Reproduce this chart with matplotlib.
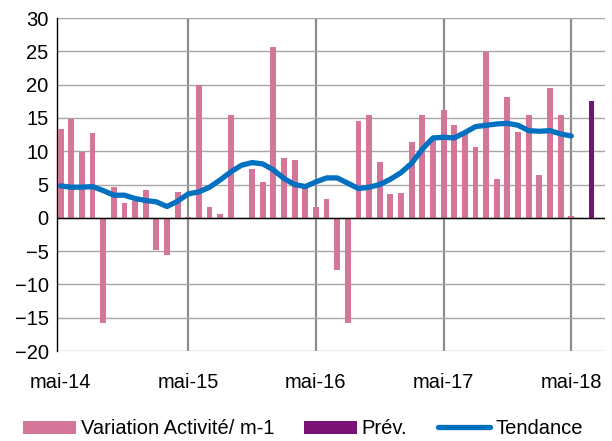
import matplotlib
matplotlib.use("Agg")
import matplotlib.pyplot as plt
import numpy as np

plt.rcParams['font.family'] = ['Liberation Sans', 'DejaVu Sans']

# variation mensuelle de l'activité, mai-14 .. mai-18
variation = [13.3, 14.8, 9.9, 12.7, -15.8, 4.6, 2.2, 2.5, 4.2, -4.9, -5.6, 3.9,
             0.1, 19.9, 1.7, 0.65, 15.4, -0.2, 7.3, 5.4, 25.6, 9.0, 8.7, 4.9,
             1.6, 2.8, -7.9, -15.8, 14.6, 15.4, 8.4, 3.6, 3.8, 11.4, 15.4, 11.9,
             16.2, 13.9, 12.9, 10.7, 24.9, 5.8, 18.1, 12.9, 15.4, 6.4, 19.5, 15.4,
             0.25]
tendance = [4.8, 4.6, 4.6, 4.7, 4.1, 3.4, 3.4, 2.9, 2.6, 2.4, 1.7, 2.5,
            3.6, 3.9, 4.6, 5.7, 6.9, 7.9, 8.3, 8.1, 7.2, 5.9, 5.0, 4.7,
            5.4, 6.0, 6.0, 5.2, 4.4, 4.6, 5.0, 5.8, 6.8, 8.2, 10.3, 12.0,
            12.1, 12.0, 12.8, 13.7, 13.9, 14.1, 14.2, 13.9, 13.1, 13.0, 13.1, 12.6,
            12.3, 12.3]
prev = [17.5]
prev_month = 49.9
tick_months = [0, 12, 24, 36, 48]
tick_labels = ["mai-14", "mai-15", "mai-16", "mai-17", "mai-18"]

pink = "#D47599"
purple = "#7B1174"
blue = "#0070C0"

fig = plt.figure(figsize=(6.12, 4.41), dpi=100)
ax = fig.add_axes([0.093, 0.204, 0.896, 0.755])

x = np.arange(len(variation))
b1 = ax.bar(x, variation, width=0.55, color=pink, label="Variation Activité/ m-1", zorder=3)
b2 = ax.bar([prev_month], prev, width=0.55, color=purple, label="Prév.", zorder=3)
l1, = ax.plot(np.arange(len(variation)), tendance[:len(variation)],
              color=blue, lw=3.8, solid_capstyle='round', label="Tendance", zorder=4)

ax.set_ylim(-20, 30)
ax.set_yticks(np.arange(-20, 31, 5))
ax.set_xlim(-0.35, 51.2)
ax.set_xticks(tick_months)
ax.set_xticklabels(tick_labels)
ax.grid(axis='y', color="#A6A6A6", lw=1.0, zorder=0)
for m in tick_months[1:]:
    ax.axvline(m, color="#8C8C8C", lw=1.6, zorder=1)
ax.axhline(0, color="black", lw=1.0, zorder=5)

for s in ["top", "right", "bottom"]:
    ax.spines[s].set_visible(False)
ax.spines["left"].set_color("black")
ax.spines["left"].set_linewidth(1.0)
ax.tick_params(axis='x', length=0, pad=16, labelsize=14.5)
ax.tick_params(axis='y', length=0, pad=6, labelsize=14.5)

fig.legend([b1, b2, l1], ["Variation Activité/ m-1", "Prév.", "Tendance"],
           loc="lower center", bbox_to_anchor=(0.495, -0.035), ncol=3,
           frameon=False, fontsize=14.5, handlelength=2.6, handleheight=0.65,
           handletextpad=0.25, columnspacing=1.5)

fig.savefig("out.png", dpi=100)
